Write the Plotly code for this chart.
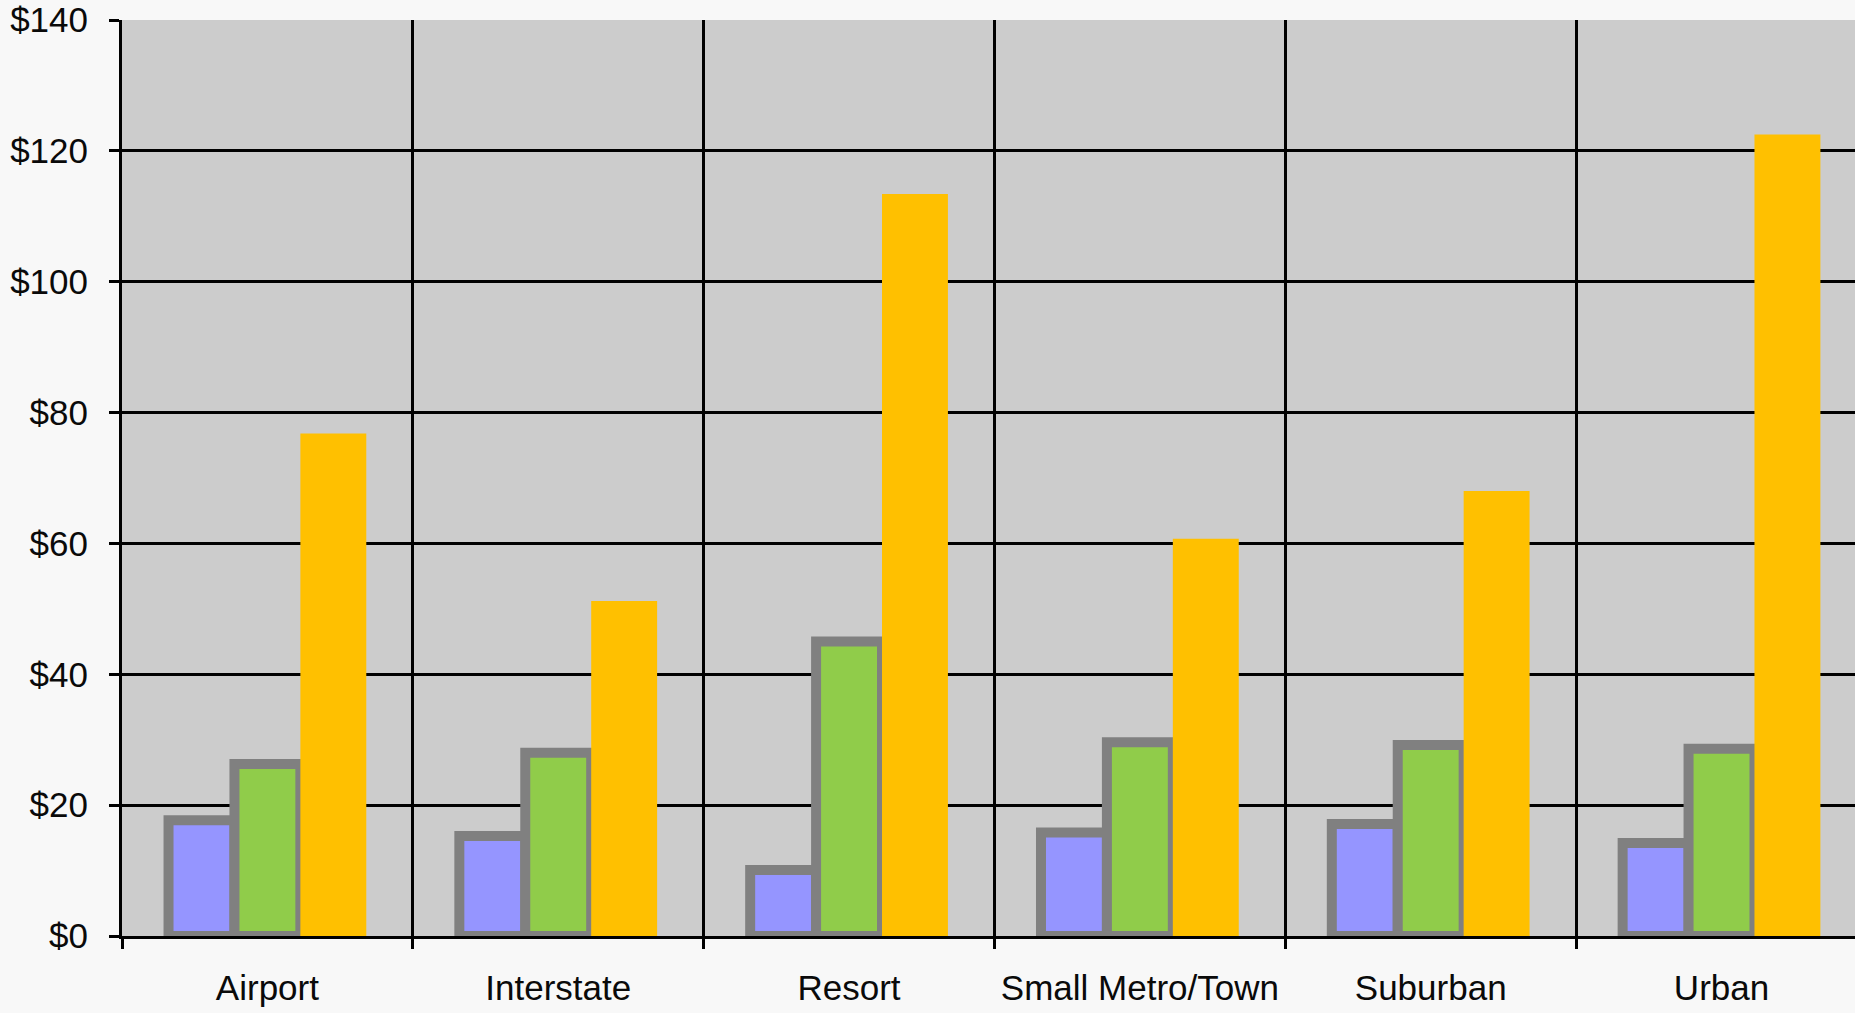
import plotly.graph_objects as go

categories = ["Airport", "Interstate", "Resort", "Small Metro/Town", "Suburban", "Urban"]
series_blue = [17.7, 15.3, 10.1, 15.8, 17.1, 14.2]
series_green = [26.3, 28.0, 45.0, 29.6, 29.2, 28.6]
series_orange = [76.8, 51.2, 113.4, 60.7, 68.0, 122.5]
y_ticks = [0, 20, 40, 60, 80, 100, 120, 140]

FONT = "Liberation Sans, Arial, Helvetica, sans-serif"

fig = go.Figure()
fig.add_trace(go.Bar(x=categories, y=series_blue, name="Series 1",
                     marker=dict(color="#9595FF", line=dict(color="#808080", width=10))))
fig.add_trace(go.Bar(x=categories, y=series_green, name="Series 2",
                     marker=dict(color="#90CC4A", line=dict(color="#808080", width=10))))
fig.add_trace(go.Bar(x=categories, y=series_orange, name="Series 3",
                     marker=dict(color="#FFC000", line=dict(width=0))))

fig.update_layout(
    width=1855, height=1013,
    margin=dict(l=122, r=0, t=20, b=77, autoexpand=False),
    paper_bgcolor="#F8F8F8",
    plot_bgcolor="#CCCCCC",
    barmode="group", bargap=0.32, bargroupgap=0,
    showlegend=False,
    font=dict(family=FONT, size=35, color="#0A0A0A"),
)
fig.update_xaxes(
    type="category",
    range=[-0.5, 5.459],
    tickson="boundaries",
    showgrid=True, gridcolor="#000000", gridwidth=3,
    ticks="outside", ticklen=10, tickwidth=3, tickcolor="#000000",
    showline=True, linecolor="#000000", linewidth=3,
    tickfont=dict(family=FONT, size=35, color="#0A0A0A"),
    ticklabelstandoff=19,
    fixedrange=True,
)
fig.update_yaxes(
    range=[0, 140],
    tickvals=y_ticks,
    ticktext=["$" + str(v) for v in y_ticks],
    showgrid=True, gridcolor="#000000", gridwidth=3,
    zeroline=False,
    ticks="outside", ticklen=10, tickwidth=3, tickcolor="#000000",
    showline=True, linecolor="#000000", linewidth=3,
    tickfont=dict(family=FONT, size=35, color="#0A0A0A"),
    ticklabelstandoff=14,
    fixedrange=True,
)

fig.write_html("out.html")
